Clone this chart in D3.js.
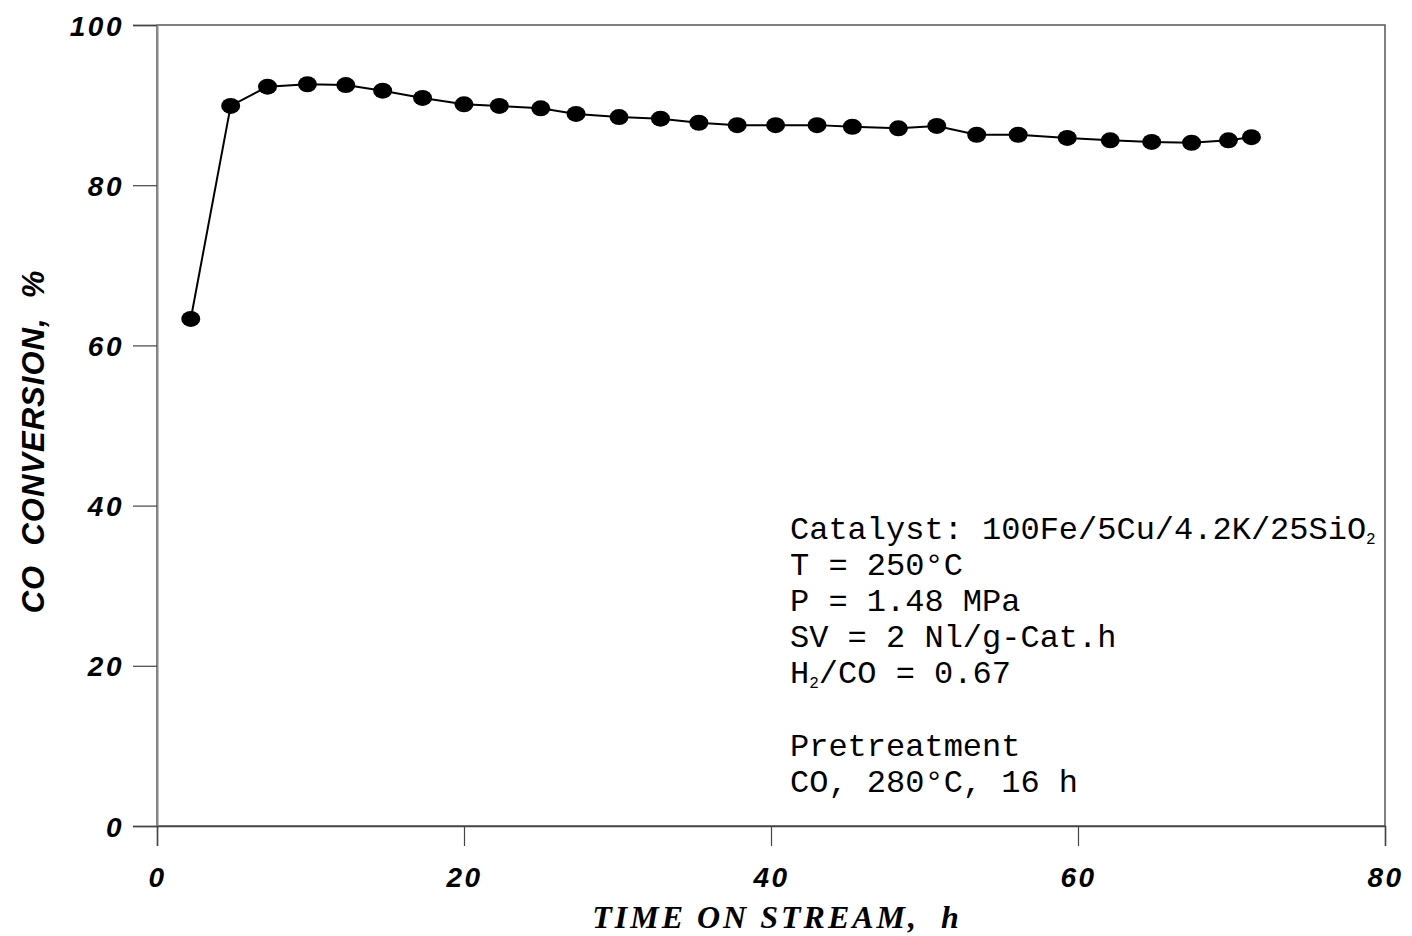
<!DOCTYPE html>
<html>
<head>
<meta charset="utf-8">
<script src="https://cdn.jsdelivr.net/npm/d3@7"></script>
<style>
	body { margin: 0; background: #fff; }
</style>
</head>
<body>
<div id="chart"></div>
<script>
// time on stream (h) and CO conversion (%)
const hours = [2.2, 4.8, 7.2, 9.8, 12.3, 14.7, 17.3, 20.0, 22.3, 25.0, 27.3, 30.1, 32.8, 35.3,
	37.8, 40.3, 43.0, 45.3, 48.3, 50.8, 53.4, 56.1, 59.3, 62.1, 64.8, 67.4, 69.8, 71.3];
const conversion = [63.3, 89.9, 92.3, 92.6, 92.5, 91.8, 90.9, 90.1, 89.9, 89.6, 88.9, 88.5, 88.3, 87.8,
	87.5, 87.5, 87.5, 87.3, 87.1, 87.4, 86.3, 86.3, 85.9, 85.6, 85.4, 85.3, 85.6, 86.0];
const xTicks = [0, 20, 40, 60, 80];
const yTicks = [0, 20, 40, 60, 80, 100];

const width = 1412;
const height = 936;
const margin = { top: 25, right: 27, bottom: 110, left: 157 };

const svg = d3
	.select("#chart")
	.append("svg")
	.attr("width", width)
	.attr("height", height);

const x = d3
	.scaleLinear()
	.domain([0, 80])
	.range([margin.left, width - margin.right]);
const y = d3
	.scaleLinear()
	.domain([0, 100])
	.range([height - margin.bottom, margin.top]);

const tickFont = "'Liberation Sans', Arial, sans-serif";

// frame
svg.append("rect")
	.attr("x", x(0))
	.attr("y", y(100))
	.attr("width", x(80) - x(0))
	.attr("height", y(0) - y(100))
	.attr("fill", "none")
	.attr("stroke", "#555")
	.attr("stroke-width", 1.5);

// y axis
const yAxis = d3.axisLeft(y).tickValues(yTicks).tickSize(24).tickPadding(9);
const gy = svg.append("g")
	.attr("transform", `translate(${x(0)},0)`)
	.call(yAxis);
gy.select(".domain").attr("stroke", "#888").attr("stroke-width", 2);
gy.selectAll(".tick line").attr("stroke", "#444").attr("stroke-width", 1.2);
gy.selectAll(".tick text")
	.attr("font-family", tickFont)
	.attr("font-size", 28)
	.attr("font-weight", "bold")
	.attr("font-style", "italic")
	.attr("letter-spacing", 2.5)
	.attr("dy", "0.36em")
	.attr("fill", "#000");

// x axis
const xAxis = d3.axisBottom(x).tickValues(xTicks).tickSize(20).tickPadding(21);
const gx = svg.append("g")
	.attr("transform", `translate(0,${y(0)})`)
	.call(xAxis);
gx.select(".domain").attr("stroke", "#444").attr("stroke-width", 1.5);
gx.selectAll(".tick line").attr("stroke", "#444").attr("stroke-width", 1.2);
gx.selectAll(".tick text")
	.attr("font-family", tickFont)
	.attr("font-size", 28)
	.attr("font-weight", "bold")
	.attr("font-style", "italic")
	.attr("letter-spacing", 2.5)
	.attr("fill", "#000");

// axis titles
svg.append("text")
	.attr("transform", `translate(44,${y(50) + 16}) rotate(-90)`)
	.attr("text-anchor", "middle")
	.attr("font-family", tickFont)
	.attr("font-size", 31)
	.attr("font-weight", "bold")
	.attr("font-style", "italic")
	.attr("letter-spacing", 1)
	.style("white-space", "pre")
	.text("CO  CONVERSION,  %");

svg.append("text")
	.attr("x", 777)
	.attr("y", 928)
	.attr("text-anchor", "middle")
	.attr("font-family", "'Liberation Serif', 'Times New Roman', serif")
	.attr("font-size", 32)
	.attr("font-weight", "bold")
	.attr("font-style", "italic")
	.attr("letter-spacing", 3)
	.style("white-space", "pre")
	.text("TIME ON STREAM,  h");

// line + markers
const points = hours.map((h, i) => [h, conversion[i]]);
const line = d3.line()
	.x((d) => x(d[0]))
	.y((d) => y(d[1]));

svg.append("path")
	.datum(points)
	.attr("d", line)
	.attr("fill", "none")
	.attr("stroke", "#000")
	.attr("stroke-width", 2);

svg.selectAll("ellipse.pt")
	.data(points)
	.enter()
	.append("ellipse")
	.attr("class", "pt")
	.attr("cx", (d) => x(d[0]))
	.attr("cy", (d) => y(d[1]))
	.attr("rx", 9.5)
	.attr("ry", 8)
	.attr("fill", "#000");

// annotation
const note = svg.append("g")
	.attr("font-family", "'Liberation Mono', 'Courier New', monospace")
	.attr("font-size", 32)
	.attr("fill", "#000");

function noteLine(yy, parts) {
	const t = note.append("text").attr("x", 790).attr("y", yy);
	parts.forEach((p) => {
		const s = t.append("tspan").text(p[0]);
		if (p[1]) s.attr("font-size", 16).attr("dy", 5);
		else if (p[2]) s.attr("dy", -5);
	});
}
noteLine(539, [["Catalyst: 100Fe/5Cu/4.2K/25SiO"], ["2", true]]);
noteLine(575, [["T = 250°C"]]);
noteLine(611, [["P = 1.48 MPa"]]);
noteLine(647, [["SV = 2 Nl/g-Cat.h"]]);
noteLine(683, [["H"], ["2", true], ["/CO = 0.67", false, true]]);
noteLine(756, [["Pretreatment"]]);
noteLine(792, [["CO, 280°C, 16 h"]]);
</script>
</body>
</html>
